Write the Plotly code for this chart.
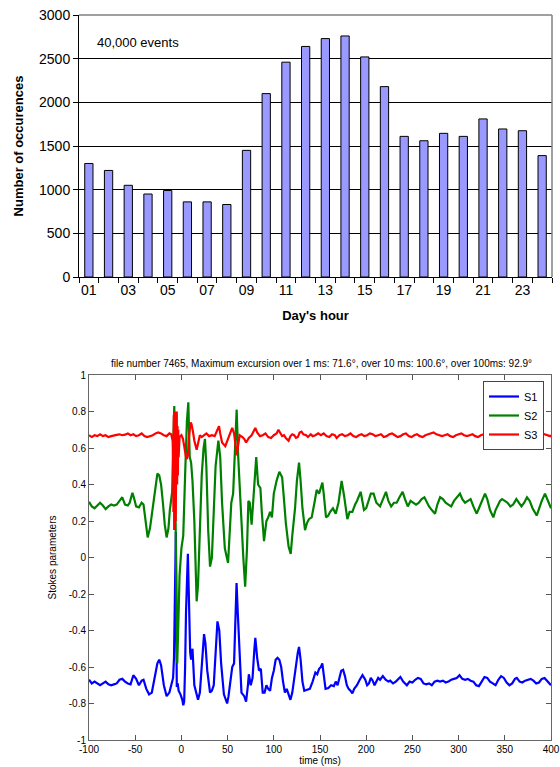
import plotly.graph_objects as go

# ---------------- Top chart data ----------------
hours = ["01","02","03","04","05","06","07","08","09","10","11","12",
         "13","14","15","16","17","18","19","20","21","22","23","24"]
occurrences = [1300, 1220, 1050, 950, 990, 860, 860, 830, 1450, 2100, 2460, 2640,
               2730, 2760, 2520, 2180, 1610, 1560, 1645, 1610, 1810, 1695, 1675, 1390]
hour_ticktext = ["01","","03","","05","","07","","09","","11","",
                 "13","","15","","17","","19","","21","","23",""]
occ_ticks = [0, 500, 1000, 1500, 2000, 2500, 3000]

# ---------------- Bottom chart data ----------------
s1_t = [-100,-97,-94,-91,-88,-85,-82,-79,-76,-73,-70,-67,-64,-61,-58,-55,-52,-49,-46,-43,-41,-38,-35,-32,-29,-26,-24,-22,-19,-16,-13,-11,-9,-8,-7,-6,-5.5,-5,-4,-3,-1,1,2,3,4,5,7,8,9.5,10.5,12,14,16,18,20,22,24.5,26,28,31,33,35,37,39,41,43,46,49.5,51,53,55,57,58.5,59.7,61,63,65,68,70,72,73,75,77,79,80,82,84,86,88,90,92,94,96,98,100,102,104,106,108,110,112,114,116,118,120,122,124,126,127.3,129,131,133,136,139,142,145,147,149,151,152.5,154,156,159,162,165,167,169,171,173,175,177,179,181,183,185,187,190,193,196,199,201,203,205,207,209,211,213,215,218,221,224,226,229,232,235,237,240,242,244,247,250,253,256,259,262,265,268,271,274,277,280,283,286,289,292,295,298,301,304,307,310,313,316,319,322,325,328,331,334,337,340,343,346,349,352,355,358,361,363,366,369,372,375,378,381,384,387,390,393,396,399,400]
s1_v = [-0.67,-0.69,-0.68,-0.69,-0.70,-0.69,-0.68,-0.695,-0.70,-0.695,-0.69,-0.67,-0.665,-0.68,-0.69,-0.695,-0.645,-0.665,-0.70,-0.675,-0.67,-0.72,-0.75,-0.74,-0.66,-0.58,-0.56,-0.59,-0.70,-0.76,-0.74,-0.70,-0.66,-0.55,-0.2,0.14,-0.3,-0.71,-0.69,-0.73,-0.75,-0.78,-0.81,-0.79,-0.6,-0.3,0.02,-0.25,-0.52,-0.56,-0.50,-0.70,-0.75,-0.78,-0.74,-0.60,-0.42,-0.47,-0.62,-0.74,-0.73,-0.70,-0.55,-0.35,-0.40,-0.58,-0.75,-0.80,-0.76,-0.66,-0.60,-0.58,-0.35,-0.14,-0.30,-0.55,-0.74,-0.76,-0.79,-0.70,-0.64,-0.70,-0.66,-0.50,-0.44,-0.55,-0.62,-0.61,-0.74,-0.74,-0.70,-0.72,-0.73,-0.66,-0.62,-0.56,-0.55,-0.56,-0.60,-0.68,-0.74,-0.72,-0.75,-0.78,-0.74,-0.66,-0.60,-0.52,-0.49,-0.56,-0.68,-0.73,-0.725,-0.72,-0.68,-0.63,-0.64,-0.61,-0.60,-0.58,-0.64,-0.72,-0.715,-0.70,-0.705,-0.68,-0.70,-0.65,-0.62,-0.615,-0.65,-0.70,-0.72,-0.73,-0.745,-0.72,-0.70,-0.67,-0.645,-0.67,-0.70,-0.69,-0.66,-0.675,-0.70,-0.68,-0.66,-0.67,-0.65,-0.67,-0.68,-0.675,-0.69,-0.68,-0.665,-0.655,-0.68,-0.69,-0.70,-0.68,-0.685,-0.67,-0.66,-0.665,-0.69,-0.695,-0.69,-0.70,-0.68,-0.675,-0.68,-0.675,-0.685,-0.68,-0.67,-0.665,-0.66,-0.645,-0.665,-0.67,-0.665,-0.675,-0.68,-0.70,-0.705,-0.68,-0.655,-0.66,-0.68,-0.69,-0.70,-0.67,-0.65,-0.66,-0.685,-0.70,-0.69,-0.665,-0.66,-0.68,-0.685,-0.675,-0.67,-0.665,-0.675,-0.69,-0.685,-0.665,-0.66,-0.675,-0.695,-0.70]

s2_t = [-100,-97,-94,-91,-88,-85,-82,-79,-76,-73,-70,-67,-64,-61,-58,-56,-53,-51,-49,-46,-43,-41,-39,-36.5,-34,-31,-28,-26,-24,-22,-20,-18,-16,-14,-12.5,-11,-10,-9,-7.7,-6.5,-5.5,-4.5,-3,-2,0,2,4,6,7.5,9,10.5,12,14,16.5,18,20,22,24,25.5,27,29,31,33,35,37,40,42,44,47,50.5,52.5,54,56,58,59.8,61.5,64,67,69,71,72.5,74,76,78,81,83,85.5,87,89.4,92,94,96,98,100,103,106,109,111,113,116,118.3,120,123,125,127.3,129,131,133.8,136,138,141,144,146.4,149,152.6,154,156.5,159,161,164,167,170,173.4,176,179.6,182,185,188,190,194,197.6,200,203,205,208,211,215,218,221.4,224,227,230,233,236,239.4,242,245,248,251,254,257,260,263,266,268,271,274.5,277,280,283,286,289,292,295,298,301.5,304,307,310,313,316,319.6,322,325,328.6,331,334,337.6,340,344.8,347,350,353,356,359,362.5,365,368,371,374,377,380,384.5,387,390,393.5,396,398,400]
s2_v = [0.305,0.28,0.27,0.285,0.30,0.285,0.265,0.28,0.29,0.285,0.29,0.31,0.33,0.29,0.285,0.30,0.355,0.32,0.28,0.275,0.30,0.29,0.20,0.11,0.16,0.27,0.40,0.46,0.45,0.40,0.30,0.18,0.11,0.16,0.26,0.33,0.36,0.60,0.83,0.3,-0.2,-0.58,-0.3,-0.1,0.05,0.12,0.45,0.75,0.85,0.55,0.52,0.42,0.2,-0.24,-0.15,0.15,0.45,0.6,0.65,0.5,0.15,-0.05,0.0,0.25,0.5,0.64,0.55,0.3,0.05,-0.03,0.20,0.30,0.35,0.6,0.81,0.55,0.27,0.0,-0.16,0.05,0.31,0.30,0.18,0.35,0.55,0.40,0.38,0.25,0.09,0.20,0.22,0.25,0.22,0.35,0.42,0.47,0.44,0.32,0.19,0.06,0.02,0.12,0.27,0.42,0.52,0.42,0.27,0.15,0.19,0.21,0.22,0.30,0.37,0.35,0.41,0.35,0.22,0.23,0.25,0.27,0.24,0.30,0.42,0.34,0.21,0.25,0.25,0.29,0.31,0.36,0.26,0.27,0.32,0.35,0.35,0.30,0.28,0.32,0.36,0.31,0.28,0.30,0.30,0.33,0.36,0.32,0.28,0.31,0.30,0.29,0.30,0.32,0.33,0.30,0.28,0.26,0.24,0.29,0.33,0.32,0.30,0.29,0.28,0.31,0.33,0.35,0.32,0.30,0.31,0.32,0.28,0.24,0.27,0.31,0.35,0.32,0.26,0.22,0.26,0.31,0.32,0.31,0.30,0.28,0.29,0.32,0.30,0.28,0.30,0.33,0.31,0.27,0.23,0.27,0.31,0.35,0.32,0.29,0.27]

s3_t = [-100,-97,-94,-91,-88,-85,-82,-79,-76,-73,-70,-67,-64,-61,-58,-55,-52,-49,-46,-43,-40,-37,-34,-31,-28,-25,-22,-19,-16,-13,-11,-10,-9.5,-9,-8.6,-8.2,-7.8,-7.4,-7,-6.6,-6.2,-5.8,-5.4,-5,-4.6,-4.2,-3.8,-3.4,-3,-2,0,1.7,3,4,5,6,7,8,10,11,12.5,14,16.5,18,20,22,24,27,30,33,36,38,40.7,42,44,47.5,50,52,55,57,58.5,59.8,61,63,66,68,70,73,76,78,80,82,85,88,91,94,97,100,103,105,107,109,111,113,116,118,120,122,124,126,128,130,132,135,137,140,142,145,148,151,154,157,160,163,166,168,171,174,177,180,183,186,189,192,195,198,201,204,207,210,213,216,219,222,225,228,231,234,237,240,243,246,249,252,255,258,261,264,267,270,273,276,279,282,285,288,291,294,297,300,303,306,309,312,315,318,321,324,327,330,333,336,339,342,345,348,351,354,357,360,363,366,369,372,375,378,381,384,387,390,393,396,399,400]
s3_v = [0.67,0.66,0.67,0.665,0.675,0.665,0.67,0.66,0.665,0.67,0.672,0.675,0.67,0.673,0.68,0.67,0.675,0.665,0.67,0.68,0.665,0.66,0.665,0.67,0.68,0.685,0.68,0.67,0.665,0.68,0.675,0.66,0.64,0.55,0.25,0.78,0.15,0.80,0.18,0.78,0.2,0.75,0.3,0.80,0.4,0.72,0.45,0.70,0.55,0.66,0.67,0.65,0.62,0.58,0.55,0.54,0.56,0.65,0.74,0.73,0.69,0.64,0.59,0.63,0.67,0.66,0.67,0.68,0.665,0.67,0.665,0.69,0.72,0.68,0.63,0.61,0.65,0.67,0.71,0.68,0.62,0.56,0.60,0.67,0.66,0.65,0.63,0.655,0.67,0.69,0.71,0.685,0.665,0.67,0.68,0.66,0.655,0.67,0.68,0.70,0.68,0.665,0.67,0.655,0.64,0.665,0.675,0.67,0.655,0.66,0.685,0.69,0.675,0.67,0.66,0.675,0.665,0.67,0.68,0.67,0.68,0.665,0.66,0.675,0.67,0.655,0.67,0.675,0.665,0.67,0.68,0.665,0.66,0.67,0.675,0.665,0.67,0.68,0.675,0.665,0.67,0.675,0.66,0.665,0.675,0.68,0.67,0.66,0.665,0.675,0.68,0.665,0.66,0.67,0.675,0.665,0.66,0.67,0.675,0.68,0.685,0.675,0.67,0.665,0.67,0.675,0.665,0.66,0.67,0.675,0.68,0.67,0.665,0.67,0.675,0.665,0.66,0.67,0.675,0.67,0.665,0.675,0.68,0.67,0.665,0.67,0.675,0.665,0.66,0.67,0.675,0.68,0.67,0.665,0.67,0.675,0.685,0.675,0.67,0.68,0.675,0.67,0.665,0.67]

stokes_ticks = [-1, -0.8, -0.6, -0.4, -0.2, 0, 0.2, 0.4, 0.6, 0.8, 1]
stokes_ticktext = ["-1", "-0.8", "-0.6", "-0.4", "-0.2", "0", "0.2", "0.4", "0.6", "0.8", "1"]
time_ticks = [-100, -50, 0, 50, 100, 150, 200, 250, 300, 350, 400]
time_ticktext = ["-100", "-50", "0", "50", "100", "150", "200", "250", "300", "350", "400"]

W, H = 560, 767
def px_x(p): return p / W
def px_y(p): return 1 - p / H

fig = go.Figure()

fig.add_trace(go.Bar(x=hours, y=occurrences, xaxis="x", yaxis="y",
                     marker=dict(color="#9999ff", line=dict(color="black", width=1)),
                     showlegend=False))

fig.add_trace(go.Scatter(x=s1_t, y=s1_v, name="S1", mode="lines", xaxis="x2", yaxis="y2",
                         line=dict(color="#0000ff", width=2.2)))
fig.add_trace(go.Scatter(x=s2_t, y=s2_v, name="S2", mode="lines", xaxis="x2", yaxis="y2",
                         line=dict(color="#008000", width=2.2)))
fig.add_trace(go.Scatter(x=s3_t, y=s3_v, name="S3", mode="lines", xaxis="x2", yaxis="y2",
                         line=dict(color="#ff0000", width=2.2)))

top_font = dict(family="Arial, Liberation Sans, sans-serif", size=14, color="black")
top_title_font = dict(family="Arial, Liberation Sans, sans-serif", size=13, color="black")
bot_font = dict(family="Arial, Liberation Sans, sans-serif", size=10, color="black")

fig.update_layout(
    width=W, height=H,
    margin=dict(l=0, r=0, t=0, b=0),
    paper_bgcolor="white", plot_bgcolor="white",
    bargap=0.58,
    xaxis=dict(domain=[px_x(79), px_x(552)], anchor="y", type="category",
               tickmode="array", tickvals=hours, ticktext=hour_ticktext,
               tickson="boundaries", ticks="outside", ticklen=5, tickcolor="black",
               tickangle=0, automargin=False,
               showline=True, linecolor="black", linewidth=1, showgrid=False,
               tickfont=top_font,
               title=dict(text="<b>Day's hour</b>", font=top_title_font, standoff=14)),
    yaxis=dict(domain=[px_y(277), px_y(15)], anchor="x", range=[0, 3000],
               tickmode="array", tickvals=occ_ticks, ticks="outside", ticklen=5,
               tickcolor="black", showline=True, linecolor="black", linewidth=1,
               showgrid=True, gridcolor="black", gridwidth=1, zeroline=False,
               automargin=False, tickfont=top_font,
               title=dict(text="<b>Number of occurences</b>", font=top_title_font, standoff=12)),
    xaxis2=dict(domain=[px_x(89), px_x(551)], anchor="y2", range=[-100, 400],
                tickmode="array", tickvals=time_ticks, ticktext=time_ticktext,
                ticks="inside", ticklen=5, tickcolor="#555555", automargin=False,
                showline=True, linecolor="#666666", linewidth=1, mirror="ticks",
                showgrid=False, zeroline=False, tickfont=bot_font,
                title=dict(text="time (ms)", font=bot_font, standoff=0)),
    yaxis2=dict(domain=[px_y(740), px_y(375)], anchor="x2", range=[-1, 1],
                tickmode="array", tickvals=stokes_ticks, ticktext=stokes_ticktext,
                ticks="inside", ticklen=5, tickcolor="#555555", automargin=False,
                showline=True, linecolor="#666666", linewidth=1, mirror="ticks",
                showgrid=False, zeroline=False, tickfont=bot_font,
                title=dict(text="Stokes parameters", font=bot_font, standoff=10)),
    legend=dict(x=px_x(544), y=px_y(381), xanchor="right", yanchor="top",
                bgcolor="white", bordercolor="#444444", borderwidth=1,
                font=dict(family="Arial, Liberation Sans, sans-serif", size=11, color="black"),
                tracegroupgap=0, itemwidth=30),
    shapes=[
        dict(type="line", xref="x domain", yref="y domain", x0=0, x1=1, y0=1, y1=1,
             line=dict(color="#808080", width=1.5), layer="above"),
        dict(type="line", xref="x domain", yref="y domain", x0=1, x1=1, y0=0, y1=1,
             line=dict(color="#808080", width=1.5), layer="above"),
    ],
    annotations=[
        dict(text="40,000 events", xref="paper", yref="paper", x=px_x(95), y=px_y(43),
             xanchor="left", yanchor="middle", showarrow=False, font=top_title_font),
        dict(text="file number 7465, Maximum excursion over 1 ms: 71.6°, over 10 ms: 100.6°, over 100ms: 92.9°",
             xref="paper", yref="paper", x=px_x(321), y=px_y(363), xanchor="center",
             yanchor="middle", showarrow=False, font=bot_font),
    ],
)

fig.write_html("out.html", config={"displayModeBar": False},
               post_script="document.body.style.margin='0';document.body.style.overflow='hidden';")
